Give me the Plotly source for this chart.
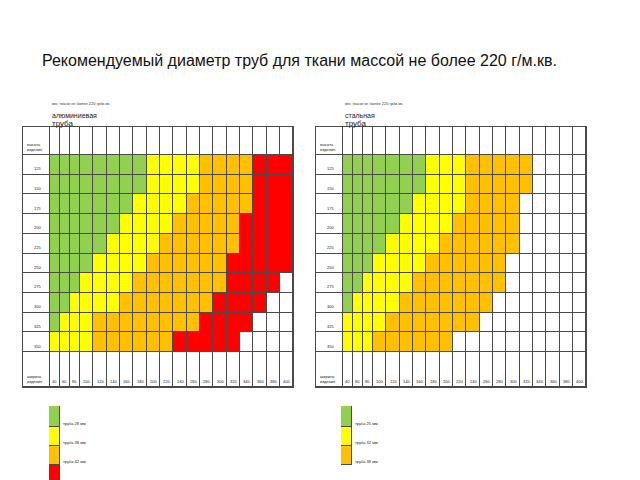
import plotly.graph_objects as go

# ---------------- data ----------------
title_text = "Рекомендуемый диаметр труб для ткани массой не более 220 г/м.кв."
note_text = "вес ткани не более 220 гр/м.кв."
width_labels = [40, 60, 80, 100, 120, 140, 160, 180, 200, 220, 240, 260, 280, 300, 320, 340, 360, 380, 400]
height_labels = [125, 150, 175, 200, 225, 250, 275, 300, 325, 350]
row_head = "высота<br>изделия"
col_head = "ширина<br>изделия"

# 0 = empty, 1 = green, 2 = yellow, 3 = orange, 4 = red
alu_codes = [
    [1, 1, 1, 1, 1, 1, 1, 1, 2, 2, 2, 2, 3, 3, 3, 3, 4, 4, 4],
    [1, 1, 1, 1, 1, 1, 1, 1, 2, 2, 2, 2, 3, 3, 3, 3, 4, 4, 4],
    [1, 1, 1, 1, 1, 1, 1, 2, 2, 2, 2, 3, 3, 3, 3, 3, 4, 4, 4],
    [1, 1, 1, 1, 1, 1, 2, 2, 2, 2, 3, 3, 3, 3, 3, 4, 4, 4, 4],
    [1, 1, 1, 1, 1, 2, 2, 2, 2, 3, 3, 3, 3, 3, 3, 4, 4, 4, 4],
    [1, 1, 1, 1, 2, 2, 2, 2, 3, 3, 3, 3, 3, 3, 4, 4, 4, 4, 4],
    [1, 1, 1, 2, 2, 2, 2, 3, 3, 3, 3, 3, 3, 3, 4, 4, 4, 4, 0],
    [1, 1, 2, 2, 2, 2, 3, 3, 3, 3, 3, 3, 3, 4, 4, 4, 4, 0, 0],
    [1, 2, 2, 2, 3, 3, 3, 3, 3, 3, 3, 3, 4, 4, 4, 4, 0, 0, 0],
    [2, 2, 2, 2, 3, 3, 3, 3, 3, 3, 4, 4, 4, 4, 4, 0, 0, 0, 0],
]
steel_codes = [
    [1, 1, 1, 1, 1, 1, 1, 2, 2, 2, 3, 3, 3, 3, 3, 0, 0, 0, 0],
    [1, 1, 1, 1, 1, 1, 1, 2, 2, 2, 3, 3, 3, 3, 3, 0, 0, 0, 0],
    [1, 1, 1, 1, 1, 1, 2, 2, 2, 2, 3, 3, 3, 3, 0, 0, 0, 0, 0],
    [1, 1, 1, 1, 1, 2, 2, 2, 2, 3, 3, 3, 3, 3, 0, 0, 0, 0, 0],
    [1, 1, 1, 1, 2, 2, 2, 2, 3, 3, 3, 3, 3, 3, 0, 0, 0, 0, 0],
    [1, 1, 1, 2, 2, 2, 2, 3, 3, 3, 3, 3, 3, 0, 0, 0, 0, 0, 0],
    [1, 1, 2, 2, 2, 2, 3, 3, 3, 3, 3, 3, 3, 0, 0, 0, 0, 0, 0],
    [1, 2, 2, 2, 2, 3, 3, 3, 3, 3, 3, 3, 0, 0, 0, 0, 0, 0, 0],
    [2, 2, 2, 2, 3, 3, 3, 3, 3, 3, 3, 0, 0, 0, 0, 0, 0, 0, 0],
    [2, 2, 2, 3, 3, 3, 3, 3, 3, 0, 0, 0, 0, 0, 0, 0, 0, 0, 0],
]
alu_title = ["алюминиевая", "труба"]
steel_title = ["стальная", "труба"]
alu_legend_codes = [1, 2, 3, 4]
alu_legend_labels = ["труба 28 мм", "труба 38 мм", "труба 42 мм", ""]
steel_legend_codes = [1, 2, 3]
steel_legend_labels = ["труба 25 мм", "труба 32 мм", "труба 38 мм"]

# ---------------- style ----------------
W, H = 640, 480
colors = ["#FFFFFF", "#92D050", "#FFFF00", "#FFC000", "#FF0000"]
cscale = [[i / 4, c] for i, c in enumerate(colors)]
grid_col = "#4a4a4a"
FONT = "Liberation Sans, Arial, sans-serif"

label_w = 27
narrow_w, wide_w = 10, 13.33
head_h, row_h, foot_h = 28, 19.7, 35

col_widths = [label_w] + [narrow_w if v < 100 else wide_w for v in width_labels]
row_heights = [head_h] + [row_h] * len(height_labels) + [foot_h]

def edges(sizes):
    e = [0.0]
    for s in sizes:
        e.append(e[-1] + s)
    return e

xe = edges(col_widths)
ye = edges(row_heights)
tot_w, tot_h = xe[-1], ye[-1]

fig = go.Figure()
annotations = []

tables = [
    dict(codes=alu_codes, left=23, top=127, title=alu_title, leg_codes=alu_legend_codes,
         leg_labels=alu_legend_labels, leg_left=49),
    dict(codes=steel_codes, left=316, top=127, title=steel_title, leg_codes=steel_legend_codes,
         leg_labels=steel_legend_labels, leg_left=341),
]

layout_axes = {}
ax_i = 1
for t in tables:
    z = [[0] * len(col_widths)]
    for r in t["codes"]:
        z.append([0] + list(r))
    z.append([0] * len(col_widths))
    xn = "x" if ax_i == 1 else f"x{ax_i}"
    yn = "y" if ax_i == 1 else f"y{ax_i}"
    fig.add_trace(go.Heatmap(z=z, x=xe, y=ye, colorscale=cscale, zmin=0, zmax=4,
                             showscale=False, xgap=1, ygap=1, hoverinfo="skip",
                             xaxis=xn, yaxis=yn))
    x0, x1 = t["left"] / W, (t["left"] + tot_w) / W
    y1, y0 = 1 - t["top"] / H, 1 - (t["top"] + tot_h) / H
    layout_axes[f"xaxis{'' if ax_i == 1 else ax_i}"] = dict(
        domain=[x0, x1], range=[0, tot_w], visible=True, showticklabels=False, ticks="",
        showgrid=False, zeroline=False, showline=True, mirror=True, linecolor=grid_col,
        linewidth=1, anchor=yn)
    layout_axes[f"yaxis{'' if ax_i == 1 else ax_i}"] = dict(
        domain=[y0, y1], range=[tot_h, 0], visible=True, showticklabels=False, ticks="",
        showgrid=False, zeroline=False, showline=True, mirror=True, linecolor=grid_col,
        linewidth=1, anchor=xn)
    for i, hv in enumerate(height_labels):
        annotations.append(dict(x=label_w * 0.55, y=ye[i + 2] - 1.5, xref=xn, yref=yn,
                                text=str(hv), showarrow=False, xanchor="center", yanchor="bottom",
                                font=dict(size=4, color="#222", family=FONT)))
    for j, wv in enumerate(width_labels):
        annotations.append(dict(x=xe[j + 2] - 1, y=tot_h - 1.5, xref=xn, yref=yn,
                                text=str(wv), showarrow=False, xanchor="right", yanchor="bottom",
                                font=dict(size=4, color="#222", family=FONT)))
    annotations.append(dict(x=2, y=head_h - 1, xref=xn, yref=yn, text=row_head,
                            showarrow=False, xanchor="left", yanchor="bottom", align="left",
                            font=dict(size=4, color="#222", family=FONT)))
    annotations.append(dict(x=2, y=tot_h - 1, xref=xn, yref=yn, text=col_head,
                            showarrow=False, xanchor="left", yanchor="bottom", align="left",
                            font=dict(size=4, color="#222", family=FONT)))
    tx = (t["left"] + label_w) / W
    annotations.append(dict(x=tx, y=1 - 103 / H, xref="paper", yref="paper", text=note_text,
                            showarrow=False, xanchor="left", yanchor="middle",
                            font=dict(size=4, color="#333", family=FONT)))
    annotations.append(dict(x=tx, y=1 - 115 / H, xref="paper", yref="paper", text=t["title"][0],
                            showarrow=False, xanchor="left", yanchor="middle",
                            font=dict(size=7, color="#222", family=FONT)))
    annotations.append(dict(x=tx, y=1 - 124 / H, xref="paper", yref="paper", text=t["title"][1],
                            showarrow=False, xanchor="left", yanchor="middle",
                            font=dict(size=8, color="#222", family=FONT)))
    ax_i += 1

    leg_h = [21, 19, 19, 19][:len(t["leg_codes"])]
    le = edges(leg_h)
    xn = f"x{ax_i}"
    yn = f"y{ax_i}"
    fig.add_trace(go.Heatmap(z=[[c] for c in t["leg_codes"]], x=[0, 11], y=le, colorscale=cscale,
                             zmin=0, zmax=4, showscale=False, xgap=1, ygap=1, hoverinfo="skip",
                             xaxis=xn, yaxis=yn))
    leg_top = 406
    leg_bottom = min(leg_top + le[-1], H)
    layout_axes[f"xaxis{ax_i}"] = dict(domain=[t["leg_left"] / W, (t["leg_left"] + 11) / W],
                                       range=[0, 11], visible=False, anchor=yn)
    layout_axes[f"yaxis{ax_i}"] = dict(domain=[1 - leg_bottom / H, 1 - leg_top / H],
                                       range=[leg_bottom - leg_top, 0], visible=False, anchor=xn)
    for k, lab in enumerate(t["leg_labels"]):
        if lab:
            annotations.append(dict(x=(t["leg_left"] + 11.5) / W, y=1 - (leg_top + le[k + 1] - 4) / H,
                                    xref="paper", yref="paper", text=lab, showarrow=False,
                                    xanchor="left", yanchor="middle",
                                    font=dict(size=4, color="#222", family=FONT)))
    ax_i += 1

annotations.append(dict(x=40 / W, y=1 - 60 / H, xref="paper", yref="paper", text=title_text,
                        showarrow=False, xanchor="left", yanchor="middle",
                        font=dict(size=16, color="#111", family=FONT)))

fig.update_layout(width=W, height=H, margin=dict(l=0, r=0, t=0, b=0),
                  paper_bgcolor="white", plot_bgcolor=grid_col, showlegend=False,
                  annotations=annotations, **layout_axes)

fig.write_html("out.html", config={"displayModeBar": False, "staticPlot": True},
               post_script="document.body.style.margin='0px';")
